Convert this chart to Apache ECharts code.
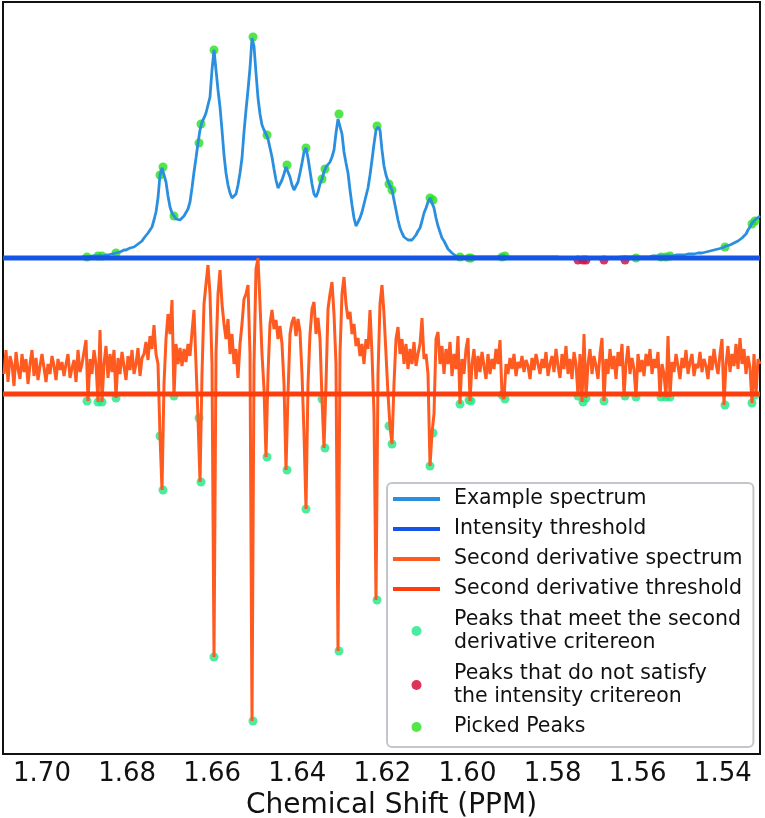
<!DOCTYPE html>
<html>
<head>
<meta charset="utf-8">
<script src="https://cdn.jsdelivr.net/npm/echarts@6/dist/echarts.min.js"></script>
<style>
  html, body { margin: 0; padding: 0; background: #fff; }
  #chart { width: 765px; height: 818px; }
</style>
</head>
<body>
<div id="chart"></div>
<script>
// spectrum is sampled on an even ppm grid (one point every 0.00047 ppm)
const PPM_START = 1.708931;
const PPM_STEP = -0.00047004;

const spectrum = [
  0,0,0,0,0,0,0,0,0,0,
  0,0,0,0,0,0,0,0,0,0,
  0,0,0,0,0,0,0,0,0,0,
  0,0,0,0,0,0,0,0,1,1,
  1,1,1,1,2,2,2,2,2,2,
  3,3,3,4,4,5,5,6,6,7,
  8,8,9,10,10,11,12,14,16,17,
  20,22,25,28,31,38,46,60,83,90,
  88,76,62,51,45,42,39,38,38,40,
  42,44,49,56,70,86,100,115,128,136,
  140,145,153,161,188,208,188,168,151,128,
  103,85,73,65,60,60,64,73,85,100,
  126,148,168,190,220,212,185,160,144,133,
  128,124,119,110,101,89,78,70,72,78,
  84,91,90,81,73,68,70,76,85,95,
  106,110,100,87,74,64,61,66,74,79,
  86,91,93,96,101,108,125,139,140,124,
  106,95,85,68,53,40,32,33,40,46,
  54,62,70,83,98,114,128,131,128,108,
  92,83,77,72,68,58,48,38,30,25,
  21,19,18,17,18,20,23,27,30,37,
  45,50,56,60,59,50,40,32,26,20,
  17,13,9,7,5,3,2,1,1,1,
  1,1,1,1,1,1,1,1,1,1,
  1,1,1,1,1,1,1,1,2,2,
  2,1,1,1,1,1,1,1,1,1,
  1,1,1,1,1,1,1,1,1,1,
  1,1,1,1,1,1,1,1,1,0,
  0,0,0,0,0,0,0,0,0,0,
  0,0,0,0,0,0,0,0,0,0,
  0,0,0,0,0,0,0,0,1,1,
  1,1,1,1,1,1,1,1,1,1,
  1,1,1,2,2,2,2,2,2,2,
  2,2,2,2,2,2,3,3,3,3,
  3,4,4,4,4,4,5,5,5,5,
  6,6,6,7,7,8,8,9,9,10,
  11,12,13,13,14,15,16,17,19,20,
  22,24,28,31,35,37,39,41,42
];

const secondDerivative = [
  20,44,12,38,30,8,42,25,15,40,
  22,35,10,30,44,18,36,14,28,40,
  26,12,30,20,38,28,14,35,24,32,
  18,30,40,16,26,34,12,44,22,30,
  30,54,-7,35,20,44,30,-8,64,-8,
  30,48,16,40,22,44,-4,36,20,42,
  28,14,38,24,44,20,30,46,18,36,
  40,52,34,58,45,69,40,30,-42,-96,
  10,55,80,60,94,-2,50,30,46,28,
  45,32,50,38,62,84,30,-24,-88,20,
  90,110,129,100,30,-263,40,100,124,90,
  70,55,75,40,60,30,45,16,50,70,
  95,100,109,40,-327,30,125,136,90,40,
  5,-63,20,70,84,65,74,55,68,50,
  10,-76,0,60,72,77,58,75,62,20,
  -40,-115,10,60,85,92,60,76,55,-5,
  -54,10,85,100,112,80,30,-257,40,100,
  117,90,75,82,60,70,48,56,38,50,
  30,55,45,84,40,-20,-206,20,90,109,
  80,40,0,-32,-50,10,55,67,40,55,
  30,50,25,45,30,52,28,40,50,76,
  35,40,20,-72,-39,-20,55,62,30,48,
  20,45,30,52,18,40,25,58,-10,35,
  20,45,56,-7,30,45,15,38,22,42,
  28,15,40,20,35,25,45,30,54,-1,
  -5,30,20,36,25,40,18,32,26,38,
  22,34,28,15,36,24,40,30,20,35,
  26,42,18,30,38,22,45,28,16,40,
  25,48,20,35,15,42,30,-2,40,-8,
  60,-4,30,45,20,38,28,15,40,56,
  -7,35,20,45,25,38,15,42,28,50,
  -2,30,48,20,36,25,-3,40,22,34,
  18,40,28,45,20,35,26,42,-3,30,
  20,-3,58,-3,32,22,40,28,15,36,
  26,44,20,32,40,18,30,26,42,22,
  35,28,15,38,24,45,30,20,40,55,
  -11,30,48,22,40,28,50,25,56,30,
  45,20,38,26,-9,40,-1,35,30
];

// peaks found by the second derivative
const peakPpm = [
  1.68942,1.68684,1.68590,1.68261,1.67227,1.67156,1.66898,1.66310,1.66263,1.65958,
  1.65041,1.64712,1.64242,1.63796,1.63419,1.63349,1.63020,1.62127,1.61845,1.61774,
  1.60881,1.60811,1.60176,1.59965,1.59918,1.59189,1.59119,1.57403,1.57285,1.57215,
  1.56792,1.56298,1.56040,1.55452,1.55335,1.55241,1.53948,1.53314,1.53243
];
const peakIntensity = [
  1,2,2,5,83,91,42,115,134,208,
  221,123,93,110,79,89,144,132,74,68,
  60,58,1,0,0,1,2,-2,-2,-2,
  -2,-2,0,1,1,2,11,34,37
];
const peakSecondDerivative = [
  -7,-8,-8,-4,-42,-96,-2,-24,-88,-263,
  -327,-63,-76,-115,-5,-54,-257,-206,-32,-50,
  -72,-39,-10,-6,-7,-1,-5,-2,-8,-4,
  -7,-2,-3,-3,-3,-3,-11,-9,-1
];

const xTicks = [1.70, 1.68, 1.66, 1.64, 1.62, 1.60, 1.58, 1.56, 1.54];

const INTENSITY_THRESHOLD = 0;
const D2_THRESHOLD = 0;
const D2_OFFSET = -136;   // second derivative trace is drawn under the spectrum
const X_MIN = 1.531256, X_MAX = 1.709166;
const Y_MIN = -496, Y_MAX = 256;

const FONT = 'DejaVu Sans';
const BAR_ICON = 'path://M0,0H47V4H0Z';

const specData = spectrum.map((v, i) => [PPM_START + i * PPM_STEP, v]);
const d2Data = secondDerivative.map((v, i) => [PPM_START + i * PPM_STEP, v + D2_OFFSET]);
const d2Peaks = peakPpm.map((p, i) => [p, peakSecondDerivative[i] + D2_OFFSET]);
const lowPeaks = [], pickedPeaks = [];
peakPpm.forEach((p, i) => {
  if (peakIntensity[i] < INTENSITY_THRESHOLD) lowPeaks.push([p, peakIntensity[i]]);
  else pickedPeaks.push([p, peakIntensity[i]]);
});

const N_MEET = 'Peaks that meet the second\nderivative critereon';
const N_LOW = 'Peaks that do not satisfy\nthe intensity critereon';

const chart = echarts.init(document.getElementById('chart'));
chart.setOption({
  animation: false,
  backgroundColor: '#fff',
  grid: {
    left: 3, top: 2, width: 757, height: 752,
    containLabel: false, outerBoundsMode: 'none',
    show: true, borderColor: '#111', borderWidth: 2, backgroundColor: 'transparent'
  },
  xAxis: {
    type: 'value',
    min: X_MIN, max: X_MAX,
    inverse: true,
    axisLine: { show: false },
    axisTick: { show: false },
    splitLine: { show: false },
    axisLabel: {
      customValues: xTicks,
      formatter: v => v.toFixed(2),
      fontFamily: FONT, fontSize: 26, color: '#111', margin: 7
    },
    name: 'Chemical Shift (PPM)',
    nameLocation: 'middle',
    nameGap: 33,
    nameTextStyle: { fontFamily: FONT, fontSize: 28, color: '#111', padding: [0, 0, 0, 20] }
  },
  yAxis: { type: 'value', show: false, min: Y_MIN, max: Y_MAX },
  legend: {
    orient: 'vertical',
    left: 387, top: 483,
    itemWidth: 47, itemHeight: 10, itemGap: 8,
    padding: [5, 11, 9, 6],
    backgroundColor: '#fff',
    borderColor: '#c3c7cb', borderWidth: 2, borderRadius: 5,
    textStyle: { fontFamily: FONT, fontSize: 20.5, color: '#111', lineHeight: 22, padding: [0, 0, 0, 9] },
    data: [
      { name: 'Example spectrum', icon: BAR_ICON },
      { name: 'Intensity threshold', icon: BAR_ICON },
      { name: 'Second derivative spectrum', icon: BAR_ICON },
      { name: 'Second derivative threshold', icon: BAR_ICON },
      { name: N_MEET, textStyle: { lineHeight: 23 } },
      { name: N_LOW, textStyle: { lineHeight: 23 } },
      'Picked Peaks'
    ]
  },
  series: [
    {
      name: 'Example spectrum', type: 'line', data: specData, symbol: 'none',
      lineStyle: { color: '#2b8fdf', width: 2.8 }, itemStyle: { color: '#2b8fdf' }
    },
    {
      name: 'Intensity threshold', type: 'line', symbol: 'none',
      data: [[X_MAX, INTENSITY_THRESHOLD], [X_MIN, INTENSITY_THRESHOLD]],
      lineStyle: { color: '#1455e8', width: 5 }, itemStyle: { color: '#1455e8' }
    },
    {
      name: 'Second derivative spectrum', type: 'line', data: d2Data, symbol: 'none',
      lineStyle: { color: '#ff5a1f', width: 3 }, itemStyle: { color: '#ff5a1f' }
    },
    {
      name: 'Second derivative threshold', type: 'line', symbol: 'none',
      data: [[X_MAX, D2_THRESHOLD + D2_OFFSET], [X_MIN, D2_THRESHOLD + D2_OFFSET]],
      lineStyle: { color: '#ff3c0c', width: 5 }, itemStyle: { color: '#ff3c0c' }
    },
    {
      name: N_MEET, type: 'scatter', data: d2Peaks, symbolSize: 9,
      itemStyle: { color: '#1fe688' }
    },
    {
      name: N_LOW, type: 'scatter', data: lowPeaks, symbolSize: 9,
      itemStyle: { color: '#d8103a', opacity: 0.85 }
    },
    {
      name: 'Picked Peaks', type: 'scatter', data: pickedPeaks, symbolSize: 9,
      itemStyle: { color: '#27e01b' }
    }
  ]
});
</script>
</body>
</html>
